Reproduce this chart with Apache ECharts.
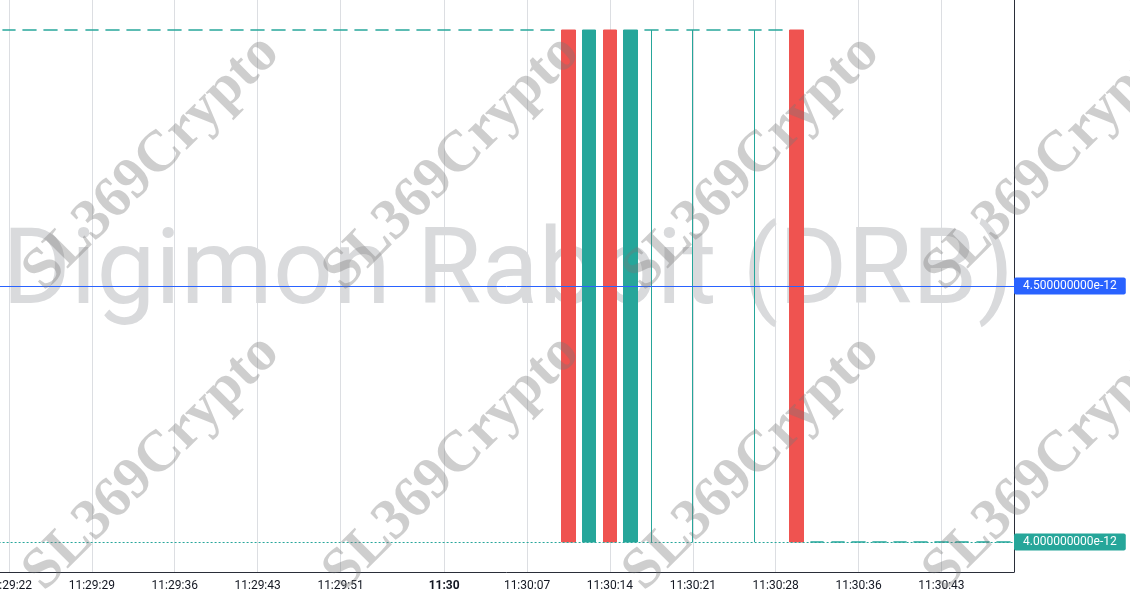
<!DOCTYPE html>
<html><head><meta charset="utf-8">
<script src="https://cdn.jsdelivr.net/npm/echarts@6/dist/echarts.min.js"></script>
<style>html,body{margin:0;padding:0;background:#fff}#c{width:1130px;height:600px}</style>
</head><body><div id="c"></div>
<script>
const categories = [
  '11:29:22','11:29:24','11:29:25','11:29:27','11:29:29','11:29:31','11:29:33','11:29:34',
  '11:29:36','11:29:38','11:29:40','11:29:41','11:29:43','11:29:45','11:29:47','11:29:49',
  '11:29:51','11:29:53','11:29:54','11:29:56','11:29:58','11:30:00','11:30:02','11:30:04',
  '11:30:05','11:30:07','11:30:09','11:30:11','11:30:12','11:30:14','11:30:16','11:30:18',
  '11:30:19','11:30:21','11:30:23','11:30:25','11:30:26','11:30:28','11:30:30','11:30:32',
  '11:30:34','11:30:36','11:30:38','11:30:39','11:30:41','11:30:43','11:30:45','11:30:47',
  '11:30:48'
];
const tickLabels = ['11:29:22','11:29:29','11:29:36','11:29:43','11:29:51','11:30:00',
  '11:30:07','11:30:14','11:30:21','11:30:28','11:30:36','11:30:43'];
const minuteLabels = {'11:30:00': '11:30'};

const opens = [
  5e-12,5e-12,5e-12,5e-12,5e-12,5e-12,5e-12,5e-12,5e-12,5e-12,
  5e-12,5e-12,5e-12,5e-12,5e-12,5e-12,5e-12,5e-12,5e-12,5e-12,
  5e-12,5e-12,5e-12,5e-12,5e-12,5e-12,5e-12,5e-12,4e-12,5e-12,
  4e-12,5e-12,5e-12,5e-12,5e-12,5e-12,5e-12,5e-12,5e-12,4e-12,
  4e-12,4e-12,4e-12,4e-12,4e-12,4e-12,4e-12,4e-12,4e-12
];
const closes = [
  5e-12,5e-12,5e-12,5e-12,5e-12,5e-12,5e-12,5e-12,5e-12,5e-12,
  5e-12,5e-12,5e-12,5e-12,5e-12,5e-12,5e-12,5e-12,5e-12,5e-12,
  5e-12,5e-12,5e-12,5e-12,5e-12,5e-12,5e-12,4e-12,5e-12,4e-12,
  5e-12,5e-12,5e-12,5e-12,5e-12,5e-12,5e-12,5e-12,4e-12,4e-12,
  4e-12,4e-12,4e-12,4e-12,4e-12,4e-12,4e-12,4e-12,4e-12
];
const lows = [
  5e-12,5e-12,5e-12,5e-12,5e-12,5e-12,5e-12,5e-12,5e-12,5e-12,
  5e-12,5e-12,5e-12,5e-12,5e-12,5e-12,5e-12,5e-12,5e-12,5e-12,
  5e-12,5e-12,5e-12,5e-12,5e-12,5e-12,5e-12,4e-12,4e-12,4e-12,
  4e-12,4e-12,5e-12,4e-12,5e-12,5e-12,4e-12,5e-12,4e-12,4e-12,
  4e-12,4e-12,4e-12,4e-12,4e-12,4e-12,4e-12,4e-12,4e-12
];
const highs = [
  5e-12,5e-12,5e-12,5e-12,5e-12,5e-12,5e-12,5e-12,5e-12,5e-12,
  5e-12,5e-12,5e-12,5e-12,5e-12,5e-12,5e-12,5e-12,5e-12,5e-12,
  5e-12,5e-12,5e-12,5e-12,5e-12,5e-12,5e-12,5e-12,5e-12,5e-12,
  5e-12,5e-12,5e-12,5e-12,5e-12,5e-12,5e-12,5e-12,5e-12,4e-12,
  4e-12,4e-12,4e-12,4e-12,4e-12,4e-12,4e-12,4e-12,4e-12
];
const lastPrice = 4.0e-12;
const markPrice = 4.5e-12;
const titleText = 'Digimon Rabbit (DRB)';
const watermarkText = 'SL369Crypto';

const UP = '#26a69a', DOWN = '#ef5350', BLUE = '#2962ff';
const candleData = opens.map((o, i) => [o, closes[i], lows[i], highs[i]]);

const wmCenters = [];
[152, 452, 752, 1052].forEach(x => [163, 463].forEach(y => wmCenters.push([x, y])));
const graphics = [{
  type: 'text', x: 508, y: 277, z: 1, silent: true,
  style: { text: titleText, fontSize: 105, fontFamily: 'Roboto', fill: '#d9dadc',
           align: 'center', verticalAlign: 'middle' }
}].concat(wmCenters.map(c => ({
  type: 'text', x: c[0], y: c[1], rotation: Math.PI / 4, z: 100, silent: true,
  style: { text: watermarkText, fontSize: 58, fontWeight: 'bold', fontFamily: 'Liberation Serif',
           fill: 'rgba(120,120,120,0.36)', align: 'center', verticalAlign: 'middle' }
})));

const chart = echarts.init(document.getElementById('c'), null, { renderer: 'canvas' });
const showTick = (idx, val) => tickLabels.includes(val);
const priceLabel = (bg) => ({
  show: true, position: 'end', distance: 0,
  formatter: p => Number(p.value).toExponential(9),
  color: '#fff', backgroundColor: bg, fontFamily: 'Roboto', fontSize: 12,
  lineHeight: 13, padding: [2, 9, 2, 9], borderRadius: 2
});
chart.setOption({
  animation: false,
  backgroundColor: '#fff',
  grid: { left: -1.4, right: 116, top: 0, bottom: 28, containLabel: false, outerBoundsMode: 'none' },
  graphic: graphics,
  xAxis: {
    type: 'category', data: categories, boundaryGap: true,
    axisLine: { show: true, lineStyle: { color: '#2a2e39', width: 1 } },
    axisTick: { show: false },
    splitLine: { show: true, interval: showTick, alignWithLabel: true,
                 lineStyle: { color: '#dcdee2', width: 1 } },
    axisLabel: {
      interval: showTick, margin: 8, fontFamily: 'Roboto', fontSize: 12, color: '#131722',
      hideOverlap: false,
      formatter: v => minuteLabels[v] ? '{b|' + minuteLabels[v] + '}' : v,
      rich: { b: { fontWeight: 'bold', fontFamily: 'Roboto', fontSize: 12, color: '#131722' } }
    }
  },
  yAxis: {
    type: 'value', position: 'right', scale: true,
    min: 3.9414e-12, max: 5.0586e-12,
    axisLine: { show: true, lineStyle: { color: '#2a2e39', width: 1 } },
    axisTick: { show: false }, axisLabel: { show: false }, splitLine: { show: false }
  },
  series: [{
    type: 'candlestick', data: candleData, barWidth: 14,
    itemStyle: { color: UP, color0: DOWN, borderColor: UP, borderColor0: DOWN,
                 borderColorDoji: UP, borderWidth: 1 },
    markLine: {
      silent: true, symbol: ['none', 'none'], animation: false, precision: 20,
      data: [
        { yAxis: markPrice, lineStyle: { color: BLUE, type: 'solid', width: 1 }, label: priceLabel(BLUE) },
        { yAxis: lastPrice, lineStyle: { color: UP, type: [2, 2], width: 1 }, label: priceLabel(UP) }
      ]
    }
  }]
});
</script></body></html>
